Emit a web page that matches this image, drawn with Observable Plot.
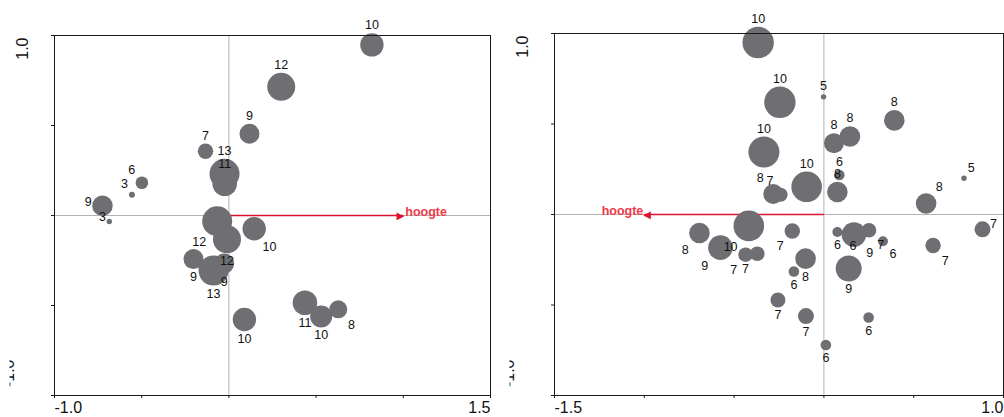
<!DOCTYPE html>
<html><head><meta charset="utf-8">
<script src="https://cdn.jsdelivr.net/npm/d3@7"></script>
<script src="https://cdn.jsdelivr.net/npm/@observablehq/plot@0.6"></script>
<style>
body{margin:0;background:#fff;}
#wrap{display:flex;width:1004px;height:417px;overflow:hidden;background:#fff;}
</style></head><body><div id="wrap"></div>
<script>
// ---------- Left panel (ordination axis 1 vs 2) ----------
const leftX = [0.82, 0.30, 0.118, -0.134, -0.025, -0.024, -0.499, -0.556, -0.725, -0.686, -0.067, -0.011, 0.145, -0.203, -0.088, -0.027, 0.089, 0.436, 0.529, 0.627];
const leftY = [0.948, 0.715, 0.454, 0.357, 0.232, 0.176, 0.182, 0.115, 0.054, -0.033, -0.032, -0.132, -0.074, -0.242, -0.306, -0.267, -0.578, -0.485, -0.561, -0.521];
const leftSize = [11.7, 14, 10, 7.7, 15, 12.3, 6.3, 3, 10.3, 2.7, 15, 14, 11.7, 10, 15, 10, 11.7, 12.3, 11, 9];
const leftLabel = ["10","12","9","7","13","11","6","3","9","3","12","12","10","9","13","9","10","11","10","8"];
const leftLabelPos = ["n","n","n","n","n","n","nw","nw","w","w","sw","s","se","s","s","s","s","s","s","se"];

// ---------- Right panel ----------
const rightX = [-0.366, -0.245, -0.002, 0.392, -0.334, 0.056, 0.145, 0.086, 0.075, -0.096, -0.282, -0.241, 0.780, 0.569, -0.418, -0.576, -0.693, -0.436, -0.371, -0.176, -0.102, -0.167, -0.256, -0.100, 0.249, 0.011, 0.138, 0.075, 0.162, 0.167, 0.251, 0.329, 0.608, 0.883];
const rightY = [0.950, 0.620, 0.650, 0.520, 0.345, 0.394, 0.431, 0.218, 0.124, 0.153, 0.113, 0.109, 0.200, 0.061, -0.063, -0.183, -0.102, -0.222, -0.217, -0.091, -0.244, -0.315, -0.472, -0.561, -0.569, -0.721, -0.298, -0.097, -0.104, -0.111, -0.087, -0.148, -0.171, -0.082];
const rightSize = [15.7, 15.7, 2.7, 10.3, 15.5, 10, 10.3, 5.3, 10.3, 15.3, 10, 7, 2.7, 10.3, 15.3, 12.3, 10.3, 7.3, 7.3, 7.7, 10.3, 5.3, 7.5, 8, 5.3, 5.3, 13, 5, 4.5, 12.3, 7.3, 5, 7.7, 8];
const rightLabel = ["10","10","5","8","10","8","8","6","8","10","8","7","5","8","10","9","8","7","7","7","8","6","7","7","6","6","9","6","6","9","7","6","7","7"];
const rightLabelPos = ["n","n","n","n","n","n","n","n","n","n","nw","nw","ne","ne","sw","sw","sw","sw","sw","sw","s","s","s","s","s","s","s","s","s","se","se","se","se","e"];

// ---------- Axes ----------
const leftXDomain = [-1.0, 1.5];
const rightXDomain = [-1.5, 1.0];
const yDomain = [-1.0, 1.0];
const leftXTicks = [-1.0, -0.5, 0, 0.5, 1.0, 1.5];
const rightXTicks = [-1.5, -1.0, -0.5, 0, 0.5, 1.0];
const yTicks = [-1.0, -0.5, 0, 0.5, 1.0];
const leftXTickLabels = ["-1.0", "1.5"];
const rightXTickLabels = ["-1.5", "1.0"];
const yTickLabels = ["1.0", "-1.0"];

// ---------- Environmental vector ----------
const envName = "hoogte";
const leftEnvX = 1.0;
const rightEnvX = -1.0;

const FONT = "Liberation Sans, Arial, Helvetica, sans-serif";
const DOT = "#6e6e73";
const RED_LINE = "#dc1430";
const RED_TEXT = "#ee3a4a";

function offset(dir, r) {
  switch (dir) {
    case "n": return [0, -(r + 7.7)];
    case "s": return [0, r + 8];
    case "nw": return [-(0.8 * r + 5), -(0.8 * r + 8)];
    case "ne": return [0.8 * r + 5, -(0.8 * r + 8)];
    case "sw": return [-(0.8 * r + 6), 0.8 * r + 9];
    case "se": return [0.8 * r + 6, 0.8 * r + 9];
    case "w": return [-(r + 4), -4];
    case "e": return [r + 3, -5];
  }
  return [0, 0];
}

let clipCount = 0;
function panel(o) {
  const height = 417, marginLeft = 54, marginBottom = 22;
  const kx = (o.width - marginLeft - o.marginRight) / (o.xDomain[1] - o.xDomain[0]);
  const ky = (height - o.marginTop - marginBottom) / (yDomain[1] - yDomain[0]);
  const pts = o.xs.map((x, i) => {
    const [dx, dy] = offset(o.pos[i], o.sizes[i]);
    return {x, y: o.ys[i], s: o.sizes[i], label: o.labels[i], lx: x + dx / kx, ly: o.ys[i] - dy / ky};
  });
  const env = [{x: o.envX, y: 0, name: envName}];
  const left = o.envX < 0;
  const svg = Plot.plot({
    width: o.width, height,
    marginLeft, marginRight: o.marginRight, marginTop: o.marginTop, marginBottom,
    x: {domain: o.xDomain, label: null},
    y: {domain: yDomain, label: null},
    r: {type: "linear", domain: [0, 20], range: [0, 20]},
    style: {fontFamily: FONT, fontSize: "16px", color: "#111", background: "#fff", flex: "none", overflow: "hidden"},
    marks: [
      Plot.ruleX([0], {stroke: "#b3b3b3", strokeWidth: 1}),
      Plot.ruleY([0], {stroke: "#b3b3b3", strokeWidth: 1}),
      Plot.link(env, {x1: () => 0, y1: () => 0, x2: "x", y2: "y", stroke: RED_LINE, strokeWidth: 1.4}),
      Plot.text(env, {x: "x", y: "y", text: () => left ? "\u25C0" : "\u25B6", fill: RED_LINE, fontSize: 10, fontFamily: "DejaVu Sans", textAnchor: left ? "start" : "end", dx: left ? -1 : 1}),
      Plot.text(env, {x: "x", y: "y", text: "name", fill: RED_TEXT, fontWeight: "bold", fontSize: 12.5, textAnchor: left ? "end" : "start", dx: left ? -1 : 2, dy: -4}),
      Plot.dot(pts, {x: "x", y: "y", r: "s", fill: DOT}),
      Plot.text(pts, {x: "lx", y: "ly", text: "label", fill: "#111", fontSize: 12.5}),
      Plot.frame({stroke: "#1a1a1a", strokeWidth: 1}),
      Plot.axisX(o.xTicks, {tickSize: 3, tickFormat: () => "", label: null, stroke: "#1a1a1a"}),
      Plot.axisY(yTicks, {tickSize: 3, tickFormat: () => "", label: null, stroke: "#1a1a1a"}),
      Plot.text([o.xDomain[0]], {x: d => d, text: () => o.xLabels[0], frameAnchor: "bottom", textAnchor: "start", lineAnchor: "top", dy: 6, fontSize: 16}),
      Plot.text([o.xDomain[1]], {x: d => d, text: () => o.xLabels[1], frameAnchor: "bottom", textAnchor: "end", lineAnchor: "top", dy: 6, fontSize: 16}),
      Plot.text([yDomain[1]], {y: d => d, text: () => yTickLabels[0], frameAnchor: "left", rotate: -90, textAnchor: "end", dx: -32, dy: 2, fontSize: 16}),
      Plot.text([yDomain[0]], {y: d => d, text: () => yTickLabels[1], frameAnchor: "left", rotate: -90, textAnchor: "end", dx: -46, dy: -36, fontSize: 16})
    ]
  });
  // the bottom y label is only partly visible in the original
  const ns = "http://www.w3.org/2000/svg";
  const id = "ylabclip" + (clipCount++);
  const defs = document.createElementNS(ns, "defs");
  const cp = document.createElementNS(ns, "clipPath");
  cp.setAttribute("id", id);
  const rect = document.createElementNS(ns, "rect");
  rect.setAttribute("x", 9.5); rect.setAttribute("y", 0);
  rect.setAttribute("width", 200); rect.setAttribute("height", height);
  cp.appendChild(rect); defs.appendChild(cp);
  svg.insertBefore(defs, svg.firstChild);
  svg.querySelectorAll("text").forEach(t => {
    if (t.textContent === yTickLabels[1] && (t.getAttribute("transform") || "").includes("rotate")) {
      const g = t.parentNode;
      const w = document.createElementNS(ns, "g");
      g.parentNode.insertBefore(w, g);
      w.appendChild(g);
      w.setAttribute("clip-path", `url(#${id})`);
    }
  });
  return svg;
}

const wrap = document.getElementById("wrap");
wrap.appendChild(panel({
  xs: leftX, ys: leftY, sizes: leftSize, labels: leftLabel, pos: leftLabelPos,
  xDomain: leftXDomain, xTicks: leftXTicks, xLabels: leftXTickLabels, envX: leftEnvX,
  width: 500, marginRight: 10, marginTop: 35
}));
wrap.appendChild(panel({
  xs: rightX, ys: rightY, sizes: rightSize, labels: rightLabel, pos: rightLabelPos,
  xDomain: rightXDomain, xTicks: rightXTicks, xLabels: rightXTickLabels, envX: rightEnvX,
  width: 504, marginRight: 1, marginTop: 33
}));
</script>
</body></html>
